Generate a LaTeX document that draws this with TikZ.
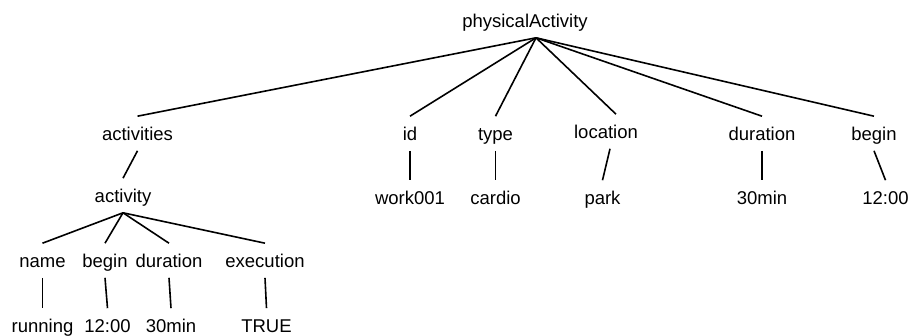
\documentclass[tikz,border=0pt]{standalone}
\usepackage{fontspec}
\setmainfont{Liberation Sans}
\usetikzlibrary{positioning}

\begin{document}
\begin{tikzpicture}[on grid,
line width=1.6pt,
field/.style ={inner xsep=2pt, inner ysep=5pt,
text height=19pt, text depth=4pt, font=\fontsize{18.5}{22}\selectfont}
]
\useasboundingbox (0,0) rectangle (910pt,-336pt);
\node[field] (PA) at (525pt,-20.5pt) {physicalActivity};
\coordinate (pa) at ([xshift=11pt]PA.south);
% first level
\node[field] (Acts) [below left = 113pt and 387.5pt of PA] {activities};
\node[field] (Id) [below left = 113pt and 115pt of PA] {id};
\node[field] (Type) [below left = 113pt and 29.5pt of PA] {type};
\node[field] (Loc) [below right = 111pt and 81pt of PA] {location};
\node[field] (Dur) [below right = 113pt and 237pt of PA] {duration};
\node[field] (Beg) [below right = 113pt and 349pt of PA] {begin};
% values
\node[field] (IdV) [below = 64pt of Id] {work001};
\node[field] (TypeV) [below = 64pt of Type] {cardio};
\node[field] (LocV) [below left = 66pt and 3.5pt of Loc] {park};
\node[field] (DurV) [below = 64pt of Dur] {30min};
\node[field] (BegV) [below right = 64pt and 11.5pt of Beg] {12:00};
% activity
\node[field] (Act) [below left = 62pt and 14.5pt of Acts] {activity};
\node[field] (Name) [below left = 65pt and 80.5pt of Act] {name};
\node[field] (ABeg) [below left = 65pt and 18pt of Act] {begin};
\node[field] (ADur) [below right = 65pt and 46pt of Act] {duration};
\node[field] (Exec) [below right = 65pt and 142pt of Act] {execution};
\node[field] (NameV) [below = 65pt of Name] {running};
\node[field] (ABegV) [below right = 65pt and 2.5pt of ABeg] {12:00};
\node[field] (ADurV) [below right = 65pt and 2pt of ADur] {30min};
\node[field] (ExecV) [below right = 65pt and 1.5pt of Exec] {TRUE};

\draw (pa) edge (Acts.north) edge (Id.north) edge (Type.north)
    edge ([xshift=10pt]Loc.north) edge (Dur.north) edge (Beg.north);
\draw (Id.south) -- (IdV.north);
\draw (Type.south) -- (TypeV.north);
\draw ([xshift=4pt]Loc.south) -- (LocV.north);
\draw (Dur.south) -- (DurV.north);
\draw (Beg.south) -- (BegV.north);
\draw (Acts.south) -- (Act.north);
\draw (Act.south) edge (Name.north) edge (ABeg.north)
    edge (ADur.north) edge (Exec.north);
\draw (Name.south) -- (NameV.north);
\draw (ABeg.south) -- (ABegV.north);
\draw (ADur.south) -- (ADurV.north);
\draw (Exec.south) -- (ExecV.north);
\end{tikzpicture}
\end{document}
